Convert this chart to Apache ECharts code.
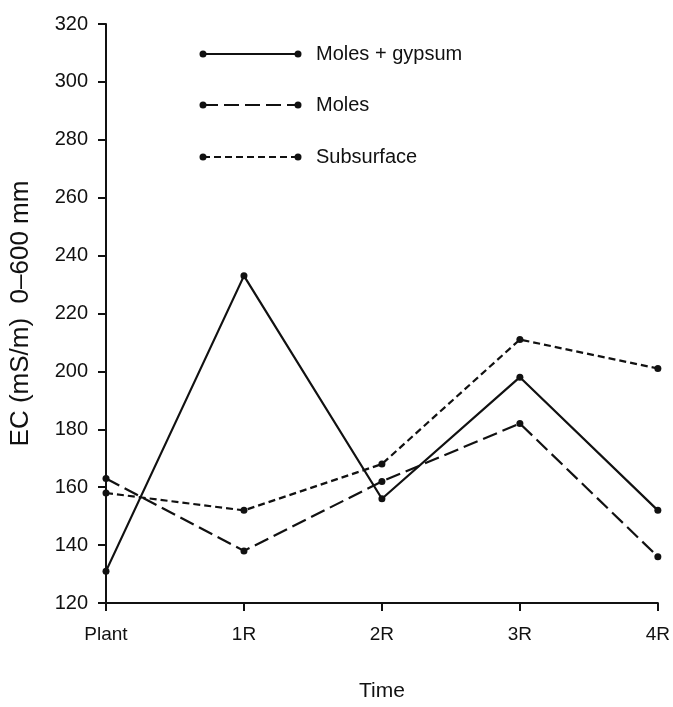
<!DOCTYPE html>
<html>
<head>
<meta charset="utf-8">
<script src="https://cdn.jsdelivr.net/npm/echarts@6/dist/echarts.min.js"></script>
<style>html,body{margin:0;padding:0;background:#fff}#c{width:673px;height:707px}</style>
</head>
<body>
<div id="c"></div>
<script>
const categories = ['Plant', '1R', '2R', '3R', '4R'];
const molesGypsum = [131, 233, 156, 198, 152];
const moles = [163, 138, 162, 182, 136];
const subsurface = [158, 152, 168, 211, 201];
const seriesNames = ['Moles + gypsum', 'Moles', 'Subsurface'];

const FONT = '"Liberation Sans", Arial, Helvetica, sans-serif';
const INK = '#111';

const chart = echarts.init(document.getElementById('c'), null, {renderer: 'canvas'});

function mkSeries(name, data, dash) {
  return {
    name, type: 'line', data,
    symbol: 'circle', symbolSize: 7,
    itemStyle: {color: INK},
    lineStyle: {color: INK, width: 2.2, type: dash ? dash : 'solid'},
    animation: false
  };
}

const legendY = [54, 105, 157];
const dashes = [null, [15, 6], [7, 4]];
const graphics = [];
seriesNames.forEach((n, i) => {
  const y = legendY[i];
  graphics.push({type: 'line', shape: {x1: 203, y1: y, x2: 298, y2: y},
    style: {stroke: INK, lineWidth: 2.2, lineDash: dashes[i] || null}});
  graphics.push({type: 'circle', shape: {cx: 203, cy: y, r: 3.5}, style: {fill: INK}});
  graphics.push({type: 'circle', shape: {cx: 298, cy: y, r: 3.5}, style: {fill: INK}});
  graphics.push({type: 'text', x: 316, y: y, style: {text: n, fill: INK, font: '20px ' + FONT, verticalAlign: 'middle'}});
});

chart.setOption({
  backgroundColor: '#fff',
  animation: false,
  grid: {left: 105, right: 14, top: 24, bottom: 103, containLabel: false},
  xAxis: {
    type: 'category', data: categories, boundaryGap: false,
    name: 'Time', nameLocation: 'middle', nameGap: 78,
    nameTextStyle: {fontFamily: FONT, fontSize: 21, color: INK},
    axisLine: {lineStyle: {color: INK, width: 2}},
    axisTick: {show: true, length: 8, lineStyle: {color: INK, width: 2}, alignWithLabel: true},
    axisLabel: {fontFamily: FONT, fontSize: 19, color: INK, margin: 22},
    splitLine: {show: false}
  },
  yAxis: {
    type: 'value', min: 120, max: 320, interval: 20,
    name: 'EC (mS/m)  0\u2013600 mm', nameLocation: 'middle', nameGap: 72,
    nameTextStyle: {fontFamily: FONT, fontSize: 26, color: INK},
    axisLine: {show: true, lineStyle: {color: INK, width: 2}},
    axisTick: {show: true, length: 8, lineStyle: {color: INK, width: 2}},
    axisLabel: {fontFamily: FONT, fontSize: 20, color: INK, margin: 18},
    splitLine: {show: false}
  },
  series: [
    mkSeries(seriesNames[0], molesGypsum, null),
    mkSeries(seriesNames[1], moles, [15, 6]),
    mkSeries(seriesNames[2], subsurface, [7, 4])
  ],
  graphic: graphics
});
</script>
</body>
</html>
